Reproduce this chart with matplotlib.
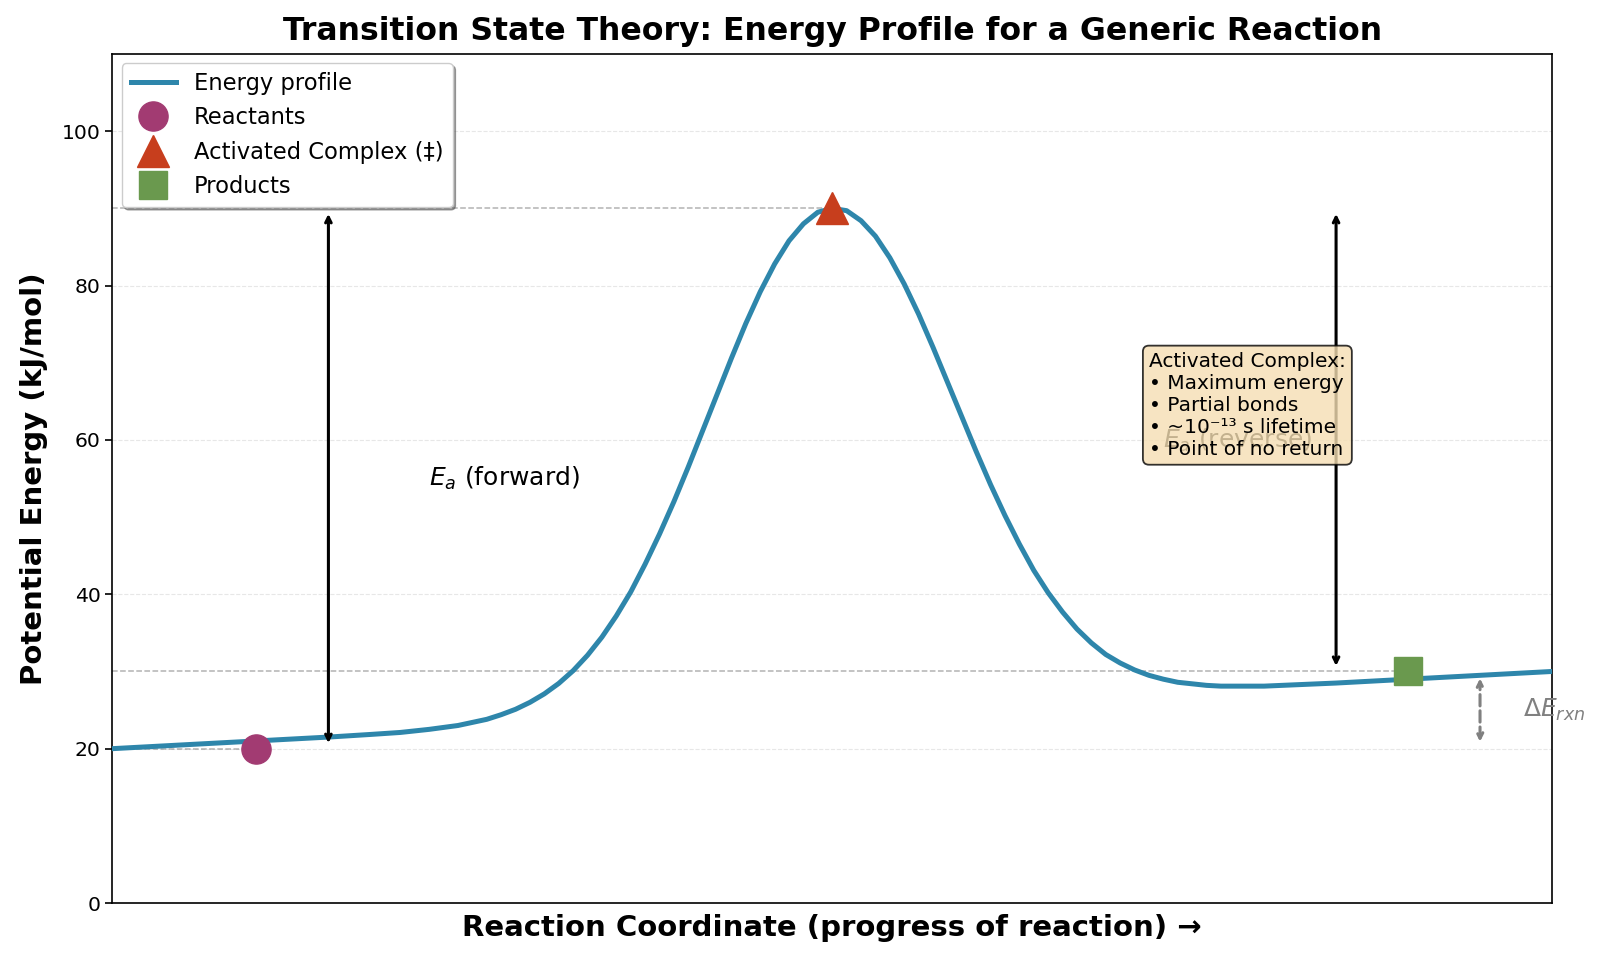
import matplotlib
matplotlib.use('Agg')
import matplotlib.pyplot as plt

# Energy profile (reaction coordinate in arbitrary units, kJ/mol)
coord = [0.0, 0.5, 1.0, 1.5, 1.8, 2.0, 2.2, 2.4,
         2.5, 2.6, 2.7, 2.8, 2.9, 3.0, 3.1, 3.2, 3.3, 3.4,
         3.5, 3.6, 3.7, 3.8, 3.9, 4.0, 4.1, 4.2, 4.3, 4.4,
         4.5, 4.6, 4.7, 4.8, 4.9, 5.0, 5.1, 5.2, 5.3, 5.4,
         5.5, 5.6, 5.7, 5.8, 5.9, 6.0, 6.1, 6.2, 6.3, 6.4,
         6.5, 6.6, 6.7, 6.8, 6.9, 7.0, 7.1, 7.2, 7.3, 7.4,
         7.5, 7.6, 7.7, 7.8, 7.9, 8.0, 8.5, 9.0, 9.5, 10.0]
energy = [20.0, 20.5, 21.0, 21.5, 21.85, 22.1, 22.5, 23.0,
          23.4, 23.8, 24.4, 25.1, 26.0, 27.1, 28.45, 30.1, 32.1, 34.45,
          37.2, 40.3, 43.9, 47.8, 52.0, 56.5, 61.2, 65.9, 70.6, 75.1,
          79.2, 82.8, 85.8, 88.0, 89.5, 90.0, 89.7, 88.4, 86.4, 83.6,
          80.2, 76.3, 72.0, 67.5, 63.0, 58.5, 54.2, 50.2, 46.5, 43.1,
          40.2, 37.7, 35.5, 33.7, 32.2, 31.1, 30.2, 29.5, 29.0, 28.6,
          28.4, 28.2, 28.1, 28.1, 28.1, 28.1, 28.5, 29.0, 29.5, 30.0]

# stationary points
point_labels = ['Reactants', 'Activated Complex (‡)', 'Products']
point_x = [1.0, 5.0, 9.0]
point_E = [20, 90, 30]
point_markers = ['o', '^', 's']
point_sizes = [21, 23, 20]
point_colors = ['#A23B72', '#C73E1D', '#6A994E']

line_color = '#2E86AB'

fig = plt.figure(figsize=(16, 9.57), dpi=100)
ax = fig.add_axes([0.0703, 0.0564, 0.8997, 0.8872])

ax.plot(coord, energy, color=line_color, lw=3.6, label='Energy profile', zorder=3,
        solid_joinstyle='round')
for lab, x, e, m, s, c in zip(point_labels, point_x, point_E, point_markers, point_sizes, point_colors):
    ax.plot(x, e, m, color=c, markersize=s, label=lab, zorder=5)

# reference levels
E_r, E_ts, E_p = point_E
ax.plot([0, point_x[0]], [E_r, E_r], ls='--', color='gray', alpha=0.6, lw=1.1, zorder=2)
ax.plot([0, point_x[1]], [E_ts, E_ts], ls='--', color='gray', alpha=0.6, lw=1.1, zorder=2)
ax.plot([0, point_x[2]], [E_p, E_p], ls='--', color='gray', alpha=0.6, lw=1.1, zorder=2)

# activation energies
ax.annotate('', xy=(1.5, E_ts), xytext=(1.5, E_r),
            arrowprops=dict(arrowstyle='<->', color='black', lw=2.2, shrinkA=4, shrinkB=4))
ax.text(2.2, 55, r'$E_a$ (forward)', fontsize=18, va='center', ha='left')

ax.annotate('', xy=(8.5, E_ts), xytext=(8.5, E_p),
            arrowprops=dict(arrowstyle='<->', color='black', lw=2.2, shrinkA=4, shrinkB=4))
ax.text(7.3, 60, r'$E_a$ (reverse)', fontsize=18, va='center', ha='left')

# reaction energy
ax.annotate('', xy=(9.5, E_p), xytext=(9.5, E_r),
            arrowprops=dict(arrowstyle='<->', color='gray', lw=2.2, ls='--', shrinkA=5, shrinkB=5))
ax.text(9.8, 25, r'$\Delta E_{rxn}$', fontsize=18, va='center', ha='left', color='gray')

ax.text(7.2, 64.5,
        'Activated Complex:\n• Maximum energy\n• Partial bonds\n• ~10⁻¹³ s lifetime\n• Point of no return',
        fontsize=14.5, va='center', ha='left', zorder=10,
        bbox=dict(boxstyle='round,pad=0.3', facecolor='wheat', edgecolor='black', lw=1.3, alpha=0.8))

ax.set_xlim(0, 10)
ax.set_ylim(0, 110)
ax.set_xticks([])
ax.set_yticks([0, 20, 40, 60, 80, 100])
ax.tick_params(axis='y', labelsize=14.7, length=5, width=1.2)
ax.grid(axis='y', ls='--', alpha=0.3)
for sp in ax.spines.values():
    sp.set_linewidth(1.2)

ax.set_xlabel('Reaction Coordinate (progress of reaction) →', fontsize=21, fontweight='bold', labelpad=8)
ax.set_ylabel('Potential Energy (kJ/mol)', fontsize=21, fontweight='bold', labelpad=10)
ax.set_title('Transition State Theory: Energy Profile for a Generic Reaction',
             fontsize=22.7, fontweight='bold', pad=10)

ax.legend(loc='upper left', fontsize=16.3, shadow=True, fancybox=True, framealpha=1,
          borderaxespad=0.4)

fig.savefig('out.png', dpi=100)
